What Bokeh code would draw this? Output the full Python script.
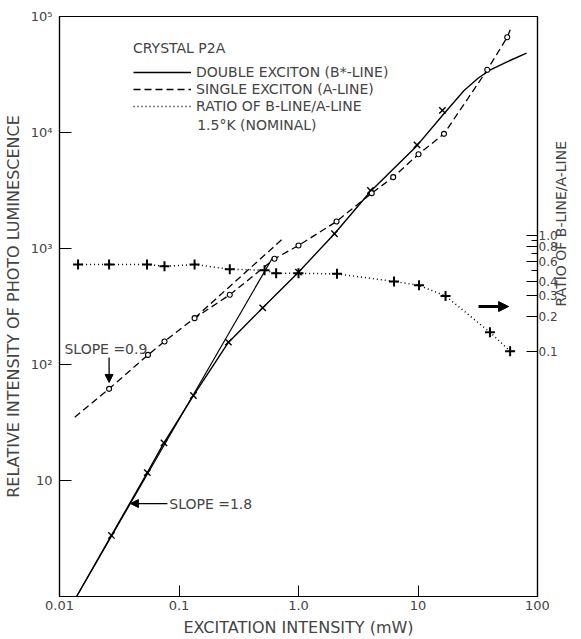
from bokeh.plotting import figure
from bokeh.models import (Range1d, LogAxis, FixedTicker, Legend, LegendItem,
                          Label, Arrow, NormalHead)
from bokeh.embed import file_html
from bokeh.resources import INLINE

FONT = "DejaVu Sans"

# ---------------- data ----------------
# Double exciton (B*-line): measured points (x markers)
b_x = [0.0272, 0.0543, 0.0748, 0.132, 0.259, 0.502, 1.0, 2.0, 4.0, 9.8, 16.0]
b_y = [3.36, 11.7, 21.1, 54, 156, 308, 625, 1340, 3160, 7830, 15500]
# drawn curve through them
bc_x = [0.0139, 0.0272, 0.0543, 0.0748, 0.132, 0.259, 0.502, 1.0, 2.0, 4.0, 9.8, 16.0, 24.3, 32, 40, 55, 81]
bc_y = [1.0, 3.36, 11.7, 21.1, 54, 155, 308, 625, 1340, 3100, 7700, 14000, 23000, 29500, 34500, 40500, 48300]
# straight slope 1.8 extrapolation
be_x = [0.0139, 0.61]
be_y = [1.0, 841]

# Single exciton (A-line): measured points (open circles)
a_x = [0.026, 0.055, 0.0756, 0.135, 0.266, 0.63, 1.0, 2.08, 4.1, 6.2, 10.1, 16.5, 38, 55.8]
a_y = [61.7, 121, 158, 251, 399, 815, 1062, 1710, 3000, 4120, 6500, 9740, 34700, 66300]
ac_x = [0.0134] + a_x + [60.3]
ac_y = [35.1] + a_y + [80900]
# straight slope 0.9 extrapolation
ae_x = [0.135, 0.738]
ae_y = [251, 1213]

# Ratio B-line / A-line (right axis)
r_x = [0.0143, 0.026, 0.054, 0.0756, 0.135, 0.266, 0.52, 0.65, 1.0, 2.1, 6.3, 10.2, 17, 40, 59]
r_y = [0.56, 0.56, 0.56, 0.54, 0.56, 0.51, 0.50, 0.47, 0.47, 0.465, 0.40, 0.37, 0.30, 0.146, 0.10]

x_ticks = [0.01, 0.1, 1, 10, 100]
x_tick_labels = ["0.01", "0.1", "1.0", "10", "100"]
y_ticks = [10, 100, 1000, 10000, 100000]
y_tick_labels = ["10", "10\u00b2", "10\u00b3", "10\u2074", "10\u2075"]
r_ticks = [0.1, 0.2, 0.3, 0.4, 0.6, 0.8, 1.0]
r_tick_labels = ["0.1", "0.2", "0.3", "0.4", "0.6", "0.8", "1.0"]
r_minor = [0.5, 0.7, 0.9]
RATIO_FACTOR = 1300.0

# ---------------- figure ----------------
p = figure(width=581, height=639, x_axis_type="log", y_axis_type="log",
           x_range=Range1d(0.01, 100), y_range=Range1d(1, 1e5),
           output_backend="svg", toolbar_location=None,
           min_border_left=58, min_border_right=44, min_border_top=16, min_border_bottom=43)
p.extra_y_ranges = {"ratio": Range1d(1 / RATIO_FACTOR, 1e5 / RATIO_FACTOR)}
p.xgrid.visible = False
p.ygrid.visible = False
p.outline_line_color = "black"
p.outline_line_width = 1.2
p.background_fill_color = "white"
p.border_fill_color = "white"

xa = p.xaxis[0]
xa.ticker = FixedTicker(ticks=x_ticks, minor_ticks=[])
xa.major_label_overrides = dict(zip(x_ticks, x_tick_labels))
xa.major_tick_in = 11
xa.major_tick_out = 0
xa.minor_tick_line_color = None
xa.major_label_standoff = 4
xa.major_label_text_font = FONT
xa.major_label_text_font_size = "13px"
xa.axis_label = "EXCITATION INTENSITY (mW)"
xa.axis_label_text_font = FONT
xa.axis_label_text_font_size = "16px"
xa.axis_label_text_font_style = "normal"
xa.axis_label_standoff = 5
xa.axis_line_width = 1.2

ya = p.yaxis[0]
ya.ticker = FixedTicker(ticks=y_ticks, minor_ticks=[])
ya.major_label_overrides = dict(zip(y_ticks, y_tick_labels))
ya.major_tick_in = 12
ya.major_tick_out = 0
ya.minor_tick_line_color = None
ya.major_label_standoff = 7
ya.major_label_text_font = FONT
ya.major_label_text_font_size = "13px"
ya.axis_label = "RELATIVE INTENSITY OF PHOTO LUMINESCENCE"
ya.axis_label_text_font = FONT
ya.axis_label_text_font_size = "16px"
ya.axis_label_text_font_style = "normal"
ya.axis_label_standoff = 5
ya.axis_line_width = 1.2

ra = LogAxis(y_range_name="ratio", ticker=FixedTicker(ticks=r_ticks, minor_ticks=r_minor))
ra.major_label_overrides = dict(zip(r_ticks, r_tick_labels))
ra.major_tick_in = 11
ra.major_tick_out = 0
ra.minor_tick_in = 6
ra.minor_tick_out = 0
ra.major_label_standoff = 1
ra.major_label_text_font = FONT
ra.major_label_text_font_size = "12px"
ra.axis_line_width = 1.2
ra.axis_label = "RATIO OF B-LINE/A-LINE"
ra.axis_label_text_font = FONT
ra.axis_label_text_font_size = "14px"
ra.axis_label_text_font_style = "normal"
ra.axis_label_text_line_height = 1.0
ra.axis_label_standoff = 0
try:
    ra.axis_label_orientation = 1.5708
except Exception:
    pass
p.add_layout(ra, "right")

# ---------------- curves ----------------
r_b = p.line(bc_x, bc_y, line_color="black", line_width=1.4)
p.line(be_x, be_y, line_color="black", line_width=1.2)
p.scatter(b_x, b_y, marker="x", size=9, line_color="black", line_width=1.4)

r_a = p.line(ac_x, ac_y, line_color="black", line_width=1.3, line_dash="7 4")
p.line(ae_x, ae_y, line_color="black", line_width=1.3, line_dash="7 4")
p.scatter(a_x, a_y, marker="circle", size=5, line_color="black", fill_color="white", line_width=1.1)

r_r = p.line(r_x, r_y, y_range_name="ratio", line_color="black", line_width=1.5, line_dash="1 3")
p.scatter(r_x, r_y, y_range_name="ratio", marker="cross", size=10, line_color="black", line_width=2)

# ---------------- legend ----------------
legend = Legend(items=[LegendItem(label="DOUBLE EXCITON (B*-LINE)", renderers=[r_b]),
                       LegendItem(label="SINGLE EXCITON (A-LINE)", renderers=[r_a]),
                       LegendItem(label="RATIO OF B-LINE/A-LINE", renderers=[r_r])],
                location=(74, 482), title="CRYSTAL P2A",
                title_text_font=FONT, title_text_font_size="14px", title_text_font_style="normal",
                title_standoff=8,
                label_text_font=FONT, label_text_font_size="14px",
                glyph_width=58, glyph_height=14, label_height=14, label_standoff=5,
                spacing=1, padding=0, margin=0,
                border_line_color=None, background_fill_alpha=0)
p.add_layout(legend)

def lab(x, y, text, **kw):
    p.add_layout(Label(x=x, y=y, text=text, text_font=FONT, text_font_size="14px",
                       text_baseline="middle", **kw))

lab(0.142, 11500, "1.5\u00b0K (NOMINAL)")
lab(0.0110, 135, "SLOPE =0.9")
lab(0.0829, 6.33, "SLOPE =1.8")

# arrows
p.add_layout(Arrow(end=NormalHead(size=8, fill_color="black", line_color="black"),
                   x_start=0.026, y_start=115, x_end=0.026, y_end=70,
                   line_color="black", line_width=1.3))
p.add_layout(Arrow(end=NormalHead(size=8, fill_color="black", line_color="black"),
                   x_start=0.080, y_start=6.33, x_end=0.0392, y_end=6.33,
                   line_color="black", line_width=1.3))
p.add_layout(Arrow(end=NormalHead(size=10, fill_color="black", line_color="black"),
                   x_start=32.1, y_start=316, x_end=57.3, y_end=316,
                   line_color="black", line_width=3))

open("out.html", "w").write(file_html(p, INLINE))
